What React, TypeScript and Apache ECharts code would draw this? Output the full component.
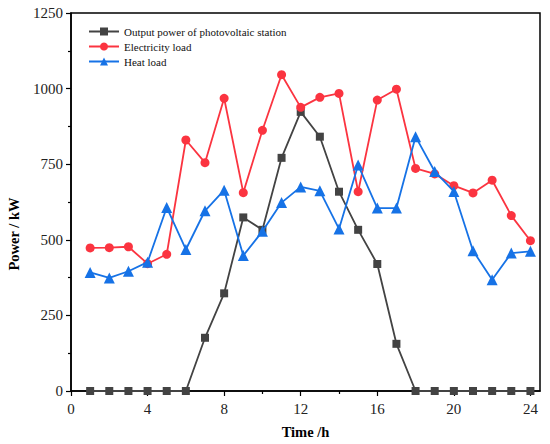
import React, { useEffect, useRef } from "react";
import * as echarts from "echarts";

const hours = [1, 2, 3, 4, 5, 6, 7, 8, 9, 10, 11, 12, 13, 14, 15, 16, 17, 18, 19, 20, 21, 22, 23, 24];
const pvOutput = [0, 0, 0, 0, 0, 0, 176, 323, 574, 533, 771, 923, 841, 659, 533, 420, 156, 0, 0, 0, 0, 0, 0, 0];
const electricityLoad = [473, 474, 477, 421, 452, 830, 755, 968, 656, 862, 1046, 938, 971, 984, 659, 962, 998, 736, 718, 679, 655, 697, 580, 497];
const heatLoad = [392, 374, 396, 426, 607, 468, 596, 664, 448, 528, 623, 675, 662, 536, 747, 605, 605, 841, 726, 660, 464, 368, 456, 462];
const majorXTicks = [0, 4, 8, 12, 16, 20, 24];
const minorXTicks = [2, 6, 10, 14, 18, 22];

const seriesNames = ["Output power of photovoltaic station", "Electricity load", "Heat load"];
const seriesColors = ["#434343", "#fb3440", "#1672e6"];
const yAxisTitle = "Power / kW";
const xAxisTitle = "Time /h";

const FONT = "Liberation Serif, Times New Roman, serif";

export default function App() {
  const ref = useRef<HTMLDivElement>(null);
  useEffect(() => {
    if (!ref.current) return;
    const chart = echarts.init(ref.current, null, { renderer: "svg" });
    const pair = (vals: number[]) => hours.map((h, i) => [h, vals[i]]);
    const baseX = {
      type: "value",
      min: 0,
      max: 24.5,
      position: "bottom",
      splitLine: { show: false },
    };
    chart.setOption({
      animation: false,
      backgroundColor: "#ffffff",
      textStyle: { fontFamily: FONT },
      grid: {
        left: 71,
        top: 13,
        right: 10,
        bottom: 50,
        show: true,
        borderColor: "#000",
        borderWidth: 1.5,
        containLabel: false,
      },
      graphic: [
        {
          type: "text",
          x: 14,
          y: 234,
          rotation: Math.PI / 2,
          style: {
            text: yAxisTitle,
            fontFamily: FONT,
            fontSize: 14.5,
            fontWeight: "bold",
            fill: "#000",
            align: "center",
            verticalAlign: "middle",
          },
        },
      ],
      legend: {
        orient: "vertical",
        left: 83,
        top: 21,
        itemWidth: 30,
        itemHeight: 10,
        itemGap: 4,
        data: seriesNames,
        textStyle: { fontFamily: FONT, fontSize: 11, color: "#111", lineHeight: 11 },
      },
      xAxis: [
        {
          ...baseX,
          name: xAxisTitle,
          nameLocation: "middle",
          nameGap: 33,
          nameTextStyle: { fontFamily: FONT, fontSize: 14.5, fontWeight: "bold", color: "#000" },
          axisLine: { show: true, lineStyle: { color: "#000", width: 1.5 } },
          axisTick: { show: true, inside: false, length: 5, lineStyle: { color: "#000", width: 1.2 }, customValues: majorXTicks },
          axisLabel: { show: true, fontFamily: FONT, fontSize: 15, color: "#222", margin: 10, customValues: majorXTicks },
          minorTick: { show: false },
        },
        {
          ...baseX,
          axisLine: { show: false },
          axisTick: { show: true, inside: false, length: 3, lineStyle: { color: "#000", width: 1.2 }, customValues: minorXTicks },
          axisLabel: { show: false },
        },
      ],
      yAxis: {
        type: "value",
        min: 0,
        max: 1250,
        interval: 250,
        axisLine: { show: true, lineStyle: { color: "#000", width: 1.5 } },
        axisTick: { show: true, inside: false, length: 5, lineStyle: { color: "#000", width: 1.2 } },
        minorTick: { show: true, splitNumber: 2, length: 3, lineStyle: { color: "#000", width: 1.2 } },
        axisLabel: { fontFamily: FONT, fontSize: 15, color: "#222", margin: 8, formatter: (v: number) => String(v) },
        splitLine: { show: false },
        minorSplitLine: { show: false },
      },
      series: [
        {
          name: seriesNames[0],
          type: "line",
          data: pair(pvOutput),
          symbol: "rect",
          symbolSize: 8,
          color: seriesColors[0],
          lineStyle: { width: 1.8, color: seriesColors[0] },
          itemStyle: { color: seriesColors[0] },
          z: 2,
        },
        {
          name: seriesNames[1],
          type: "line",
          data: pair(electricityLoad),
          symbol: "circle",
          symbolSize: 9,
          color: seriesColors[1],
          lineStyle: { width: 1.8, color: seriesColors[1] },
          itemStyle: { color: seriesColors[1] },
          z: 3,
        },
        {
          name: seriesNames[2],
          type: "line",
          data: pair(heatLoad),
          symbol: "triangle",
          symbolSize: 11,
          color: seriesColors[2],
          lineStyle: { width: 1.8, color: seriesColors[2] },
          itemStyle: { color: seriesColors[2] },
          z: 4,
        },
      ],
    });
    return () => chart.dispose();
  }, []);
  return (
    <div
      ref={ref}
      style={{ position: "absolute", left: 0, top: 0, width: 550, height: 444 }}
    />
  );
}
